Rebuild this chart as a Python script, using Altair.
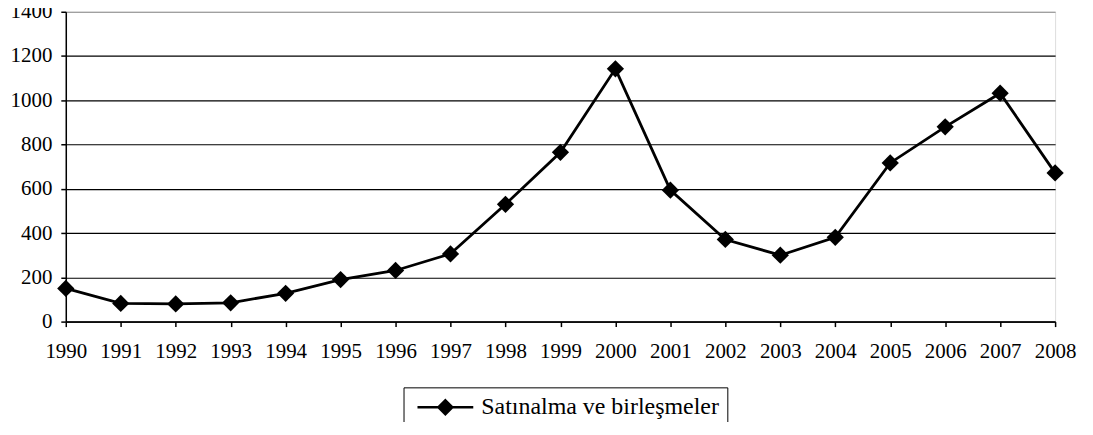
import altair as alt
import pandas as pd

years = [str(y) for y in range(1990, 2009)]
values = [150, 82, 80, 85, 128, 190, 231, 306, 530, 765, 1142, 594, 371, 300, 381, 717, 880, 1032, 672]
series_name = "Satınalma ve birleşmeler"
y_ticks = [0, 200, 400, 600, 800, 1000, 1200, 1400]

df = pd.DataFrame({"year": years, "value": values, "series": series_name})

FONT = "Liberation Serif"

legend_path = "M-4,0H4M0,-1L1,0L0,1L-1,0Z"

x_enc = alt.X(
    "year:O",
    scale=alt.Scale(type="point", padding=0),
    axis=alt.Axis(
        title=None, labelAngle=0, grid=False, domainColor="black", domainWidth=1.5,
        tickColor="black", tickSize=5, tickWidth=1.5, labelPadding=14,
        labelFont=FONT, labelFontSize=21, labelColor="black",
    ),
)
y_enc = alt.Y(
    "value:Q",
    scale=alt.Scale(domain=[0, 1400], nice=False),
    axis=alt.Axis(
        title=None, values=y_ticks, grid=True, format="d",
        gridColor={"condition": {"test": "datum.value == 1400", "value": "#888888"}, "value": "black"},
        gridWidth=1.2, domainColor="black", domainWidth=1.5,
        tickColor="black", tickSize=5, tickWidth=1.5, labelPadding=9,
        labelFont=FONT, labelFontSize=21, labelColor="black",
    ),
)
color_enc = alt.Color(
    "series:N",
    scale=alt.Scale(range=["black"]),
    legend=alt.Legend(
        title=None, orient="none", legendX=339, legendY=377,
        symbolType=legend_path, symbolSize=196, symbolStrokeWidth=2.5,
        symbolFillColor="black", symbolStrokeColor="black", symbolOffset=22,
        labelFont=FONT, labelFontSize=24, labelColor="black", labelOffset=24,
        labelLimit=0, strokeColor="black", padding=8,
    ),
)

line = alt.Chart(df).mark_line(strokeWidth=2.8).encode(x=x_enc, y=y_enc, color=color_enc)
pts = alt.Chart(df).mark_point(shape="diamond", filled=True, size=300, opacity=1).encode(
    x=x_enc, y=y_enc, color=alt.Color("series:N", scale=alt.Scale(range=["black"]), legend=None)
)

chart = (
    alt.layer(line, pts)
    .properties(
        width=993, height=311,
        autosize=alt.AutoSizeParams(type="none"),
        padding={"left": 58, "top": 3, "right": 30, "bottom": 100},
    )
    .configure_view(stroke="#888888", strokeWidth=1.2)
    .configure(background="white", font=FONT)
)

chart.save("out.html", embed_options={"renderer": "svg", "actions": False})
